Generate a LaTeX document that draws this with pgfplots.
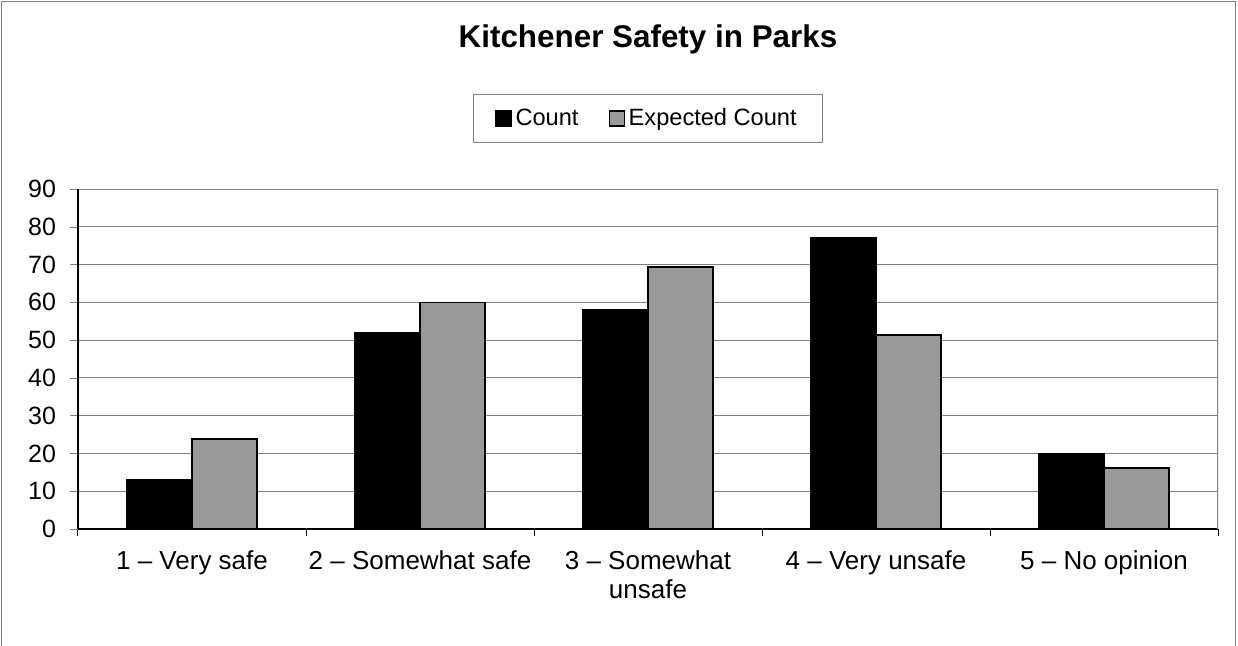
\documentclass[border=0pt]{standalone}
\usepackage{fontspec}
\setmainfont{Liberation Sans}
\usepackage{pgfplots}
\pgfplotsset{compat=1.18}
\definecolor{barGray}{HTML}{999999}
\definecolor{gridGray}{HTML}{808080}

\begin{document}
\begin{tikzpicture}
% page: 1238x645 px at 0.5pt per px, axis box from px 78..1218, 189..529
\useasboundingbox (-39pt,-58pt) rectangle (580pt,264.5pt);
\draw[gridGray,line width=0.6pt] (-38.4pt,-60pt) -- (-38.4pt,263.9pt) -- (578.9pt,263.9pt) -- (578.9pt,-60pt);
\begin{axis}[
  name=ax, at={(0,0)}, anchor=south west,
  scale only axis, width=570pt, height=170pt,
  ybar=0pt, bar width=32.5pt,
  xmin=-0.5, xmax=4.5, ymin=0, ymax=90,
  axis x line*=bottom, axis y line*=left,
  axis line style={black,line width=0.7pt,-},
  xtick={0,1,2,3,4},
  xticklabels={1 -- Very safe,2 -- Somewhat safe,3 -- Somewhat\\unsafe,4 -- Very unsafe,5 -- No opinion},
  xticklabel style={align=center,font=\fontsize{13}{14.5}\selectfont,yshift=-3.5pt},
  minor xtick={-0.5,0.5,1.5,2.5,3.5,4.5},
  major x tick style={draw=none},
  minor x tick style={black,line width=0.5pt},
  minor tick length=3.5pt,
  ytick={0,10,...,90},
  major tick length=4pt,
  tick align=outside,
  yticklabel style={font=\fontsize{12.5}{14}\selectfont,xshift=-3.5pt},
  /pgf/number format/assume math mode=true,
  ymajorgrids, grid style={gridGray,line width=0.5pt},
  title={Kitchener Safety in Parks},
  title style={at={(0.5,1.405)},anchor=center,font=\bfseries\fontsize{15.7}{18}\selectfont},
  legend columns=2,
  legend style={at={(0.5,1.135)},anchor=south,draw=gridGray,line width=0.5pt,
    font=\fontsize{11.8}{13}\selectfont,inner xsep=11pt,inner ysep=5pt,
    /tikz/every even column/.append style={column sep=13pt}},
  legend image code/.code={\draw[#1,line width=0.6pt] (0pt,-3.75pt) rectangle (7.5pt,3.75pt);},
]
\addplot[fill=black,draw=black,line width=0.8pt] coordinates {(0,13) (1,52) (2,58) (3,77) (4,20)};
\addplot[fill=barGray,draw=black,line width=0.8pt] coordinates {(0,23.8) (1,60.0) (2,69.3) (3,51.3) (4,16.1)};
\legend{Count,Expected Count}
\draw[gridGray,line width=0.7pt] (rel axis cs:1,0) -- (rel axis cs:1,1);
\end{axis}
\end{tikzpicture}
\end{document}
